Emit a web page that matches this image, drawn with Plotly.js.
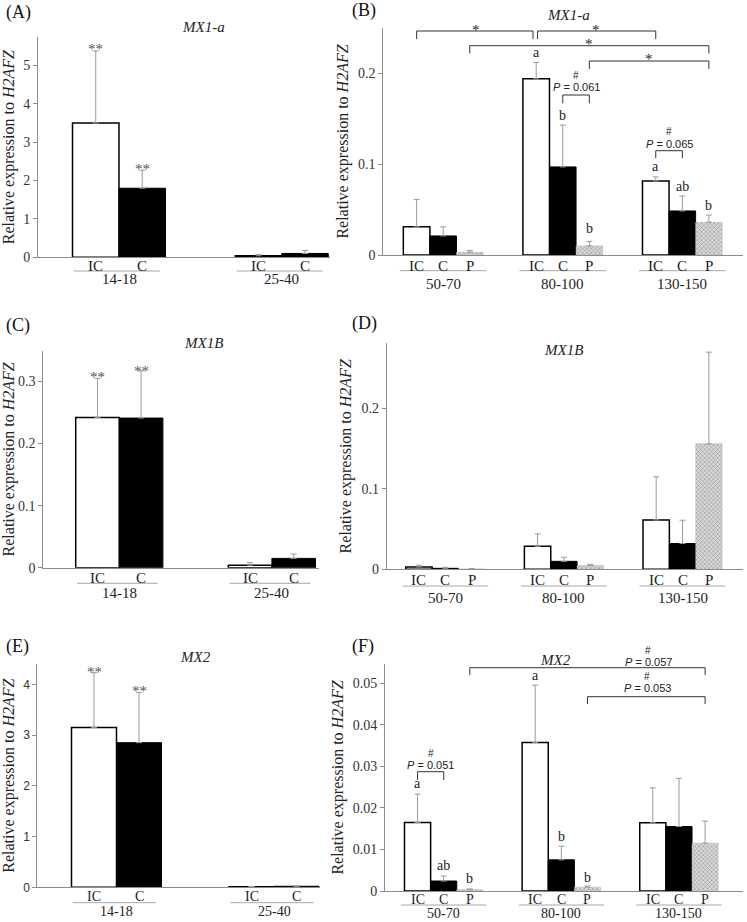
<!DOCTYPE html>
<html><head><meta charset="utf-8">
<script src="https://cdn.plot.ly/plotly-3.0.1.min.js"></script>
<style>html,body{margin:0;padding:0;background:#fff}#chart{width:747px;height:922px}</style>
</head><body><div id="chart"></div>
<script>
// ---------------- DATA ----------------
const groupsEarly = ['14-18', '25-40'];
const groupsLate = ['50-70', '80-100', '130-150'];
const seriesEarly = ['IC', 'C'];
const seriesLate = ['IC', 'C', 'P'];
const yTitle = 'Relative expression to <i>H2AFZ</i>';

// (A) MX1-a, early
const mx1aEarlyIC = [3.50, 0.04];
const mx1aEarlyIC_sd = [1.88, 0.03];
const mx1aEarlyC = [1.80, 0.10];
const mx1aEarlyC_sd = [0.47, 0.08];
// (B) MX1-a, late
const mx1aLateIC = [0.031, 0.194, 0.0815];
const mx1aLateIC_sd = [0.030, 0.018, 0.0045];
const mx1aLateC = [0.021, 0.097, 0.0485];
const mx1aLateC_sd = [0.010, 0.046, 0.0165];
const mx1aLateP = [0.003, 0.010, 0.036];
const mx1aLateP_sd = [0.002, 0.005, 0.008];
// (C) MX1B, early
const mx1bEarlyIC = [0.242, 0.004];
const mx1bEarlyIC_sd = [0.063, 0.004];
const mx1bEarlyC = [0.241, 0.015];
const mx1bEarlyC_sd = [0.076, 0.007];
// (D) MX1B, late
const mx1bLateIC = [0.003, 0.0286, 0.0613];
const mx1bLateIC_sd = [0.002, 0.0154, 0.0537];
const mx1bLateC = [0.0012, 0.0099, 0.032];
const mx1bLateC_sd = [0.0013, 0.0051, 0.029];
const mx1bLateP = [0.0004, 0.0046, 0.156];
const mx1bLateP_sd = [0.0002, 0.0016, 0.114];
// (E) MX2, early
const mx2EarlyIC = [3.15, 0.01];
const mx2EarlyIC_sd = [1.08, 0.005];
const mx2EarlyC = [2.85, 0.02];
const mx2EarlyC_sd = [0.99, 0.01];
// (F) MX2, late
const mx2LateIC = [0.0165, 0.0357, 0.0164];
const mx2LateIC_sd = [0.0068, 0.0138, 0.0084];
const mx2LateC = [0.0024, 0.0075, 0.0155];
const mx2LateC_sd = [0.0012, 0.0033, 0.0116];
const mx2LateP = [0.0003, 0.0009, 0.0115];
const mx2LateP_sd = [0.0002, 0.0003, 0.0053];

const yTicksA = [0, 1, 2, 3, 4, 5];
const yTicksB = [0, 0.1, 0.2];
const yTicksC = [0, 0.1, 0.2, 0.3];
const yTicksD = [0, 0.1, 0.2];
const yTicksE = [0, 1, 2, 3, 4];
const yTicksF = [0, 0.01, 0.02, 0.03, 0.04, 0.05];

// ---------------- LAYOUT / STYLE ----------------
const W = 747, H = 922;
const SERIF = 'Liberation Serif';
const SANS = 'Liberation Sans';
const py = p => 1 - p / H;
const pxX = p => p / W;

const panels = [
  {key:'', label:'(A)', lab:[18.5,12.7], gene:'MX1-a', genePos:[203,27], groups:groupsEarly, series:seriesEarly,
   vals:[mx1aEarlyIC, mx1aEarlyC], sds:[mx1aEarlyIC_sd, mx1aEarlyC_sd], yt:yTicksA, ysans:false,
   g:{left:38, right:330, top:37, bottom:257.3, unit:46.5, origin:119, ymax:5.74, sp:3.5}, off:{tick:7.7, line:13.7, grp:21, fs:15}},
  {key:'2', label:'(B)', lab:[364,10], gene:'MX1-a', genePos:[568,15], groups:groupsLate, series:seriesLate,
   vals:[mx1aLateIC, mx1aLateC, mx1aLateP], sds:[mx1aLateIC_sd, mx1aLateC_sd, mx1aLateP_sd], yt:yTicksB, ysans:false,
   g:{left:383.3, right:743, top:28, bottom:255, unit:26.57, origin:443.2, ymax:0.25, sp:4.5}, off:{tick:10, line:15.7, grp:27.7, fs:15}},
  {key:'3', label:'(C)', lab:[18,326], gene:'MX1B', genePos:[203,343], groups:groupsEarly, series:seriesEarly,
   vals:[mx1bEarlyIC, mx1bEarlyC], sds:[mx1bEarlyIC_sd, mx1bEarlyC_sd], yt:yTicksC, ysans:false,
   g:{left:43.3, right:319, top:351, bottom:567.7, unit:43.6, origin:119.3, ymax:0.349, sp:3.5}, off:{tick:9, line:15.6, grp:24.5, fs:15}},
  {key:'4', label:'(D)', lab:[364,323], gene:'MX1B', genePos:[563,350], groups:groupsLate, series:seriesLate,
   vals:[mx1bLateIC, mx1bLateC, mx1bLateP], sds:[mx1bLateIC_sd, mx1bLateC_sd, mx1bLateP_sd], yt:yTicksD, ysans:false,
   g:{left:386.7, right:743, top:343.3, bottom:569.3, unit:26.36, origin:445.3, ymax:0.281, sp:4.5}, off:{tick:10, line:16.7, grp:27.5, fs:15}},
  {key:'5', label:'(E)', lab:[17.7,646.7], gene:'MX2', genePos:[195,657], groups:groupsEarly, series:seriesEarly,
   vals:[mx2EarlyIC, mx2EarlyC], sds:[mx2EarlyIC_sd, mx2EarlyC_sd], yt:yTicksE, ysans:true,
   g:{left:37.3, right:320, top:664, bottom:887.3, unit:45, origin:116.5, ymax:4.4, sp:3.5}, off:{tick:8.2, line:15.4, grp:23.4, fs:14}},
  {key:'6', label:'(F)', lab:[363.3,646.7], gene:'MX2', genePos:[555,660], groups:groupsLate, series:seriesLate,
   vals:[mx2LateIC, mx2LateC, mx2LateP], sds:[mx2LateIC_sd, mx2LateC_sd, mx2LateP_sd], yt:yTicksF, ysans:false,
   g:{left:385, right:743, top:664, bottom:891, unit:26.14, origin:443.7, ymax:0.0546, sp:4.5}, off:{tick:7.3, line:14, grp:21.5, fs:14}}
];

const seriesStyle = {
  IC: {color:'#ffffff', line:{color:'#000000', width:1.5}},
  C:  {color:'#000000', line:{color:'#000000', width:1}},
  P:  {color:'#d4d4d4', pattern:{shape:'x', fgcolor:'#8a8a8a', bgcolor:'#dadada', size:3, solidity:0.3}, line:{color:'#b0b0b0', width:0.5}}
};

function xpos(p, gi, si) { return gi * p.g.sp + (si - (p.series.length - 1) / 2); }

const traces = [];
const layout = {
  width: W, height: H, margin:{l:0, r:0, t:0, b:0}, showlegend:false,
  paper_bgcolor:'#ffffff', plot_bgcolor:'rgba(0,0,0,0)', barmode:'overlay',
  font:{family:SERIF, color:'#222'}, annotations:[], shapes:[]
};

panels.forEach(p => {
  const xa = 'x' + p.key, ya = 'y' + p.key;
  const tickvals = [], ticktext = [];
  p.groups.forEach((gname, gi) => p.series.forEach((s, si) => { tickvals.push(xpos(p, gi, si)); ticktext.push(s); }));
  p.series.forEach((s, si) => {
    traces.push({
      type:'bar', xaxis:xa, yaxis:ya, name:s,
      x: p.groups.map((gname, gi) => xpos(p, gi, si)),
      y: p.vals[si], width: 1,
      marker: seriesStyle[s],
      error_y: {type:'data', array:p.sds[si], arrayminus:p.sds[si].map(() => 0), symmetric:false,
                color:'#9a9a9a', thickness:1, width:3},
      customdata: p.groups, hovertemplate: '%{customdata} ' + s + ': %{y}<extra></extra>'
    });
  });
  const g = p.g;
  layout['xaxis' + p.key] = {
    domain:[pxX(g.left), pxX(g.right)], anchor:ya,
    range:[(g.left - g.origin) / g.unit, (g.right - g.origin) / g.unit],
    showline:true, linecolor:'#8c8c8c', linewidth:1, showgrid:false, zeroline:false,
    tickmode:'array', tickvals:tickvals, ticktext:ticktext, ticks:'', showticklabels:false, fixedrange:true
  };
  layout['yaxis' + p.key] = {
    domain:[py(g.bottom), py(g.top)], anchor:xa, range:[0, g.ymax],
    showline:true, linecolor:'#8c8c8c', linewidth:1, showgrid:false, zeroline:false,
    ticks:'outside', ticklen:4, tickcolor:'#8c8c8c', tickmode:'array', tickvals:p.yt,
    tickfont:{family: p.ysans ? SANS : SERIF, size: p.ysans ? 12 : 14, color:'#333'},
    title:{text:yTitle, font:{family:SERIF, size:16, color:'#222'}, standoff:5}, fixedrange:true
  };
  // panel label and gene title
  layout.annotations.push({xref:'paper', yref:'paper', x:pxX(p.lab[0]), y:py(p.lab[1]), text:p.label,
    showarrow:false, xanchor:'center', yanchor:'middle', font:{family:SERIF, size:18, color:'#111'}});
  layout.annotations.push({xref:'paper', yref:'paper', x:pxX(p.genePos[0]), y:py(p.genePos[1]), text:'<i>' + p.gene + '</i>',
    showarrow:false, xanchor:'center', yanchor:'middle', font:{family:SERIF, size:15, color:'#222'}});
  // series labels, group underline + group label
  const n = p.series.length;
  const a = n === 3 ? -0.13 : 0.03, b = n === 3 ? 0.13 : -0.12;
  p.groups.forEach((gname, gi) => {
    p.series.forEach((s, si) => {
      layout.annotations.push({xref:xa, yref:'paper', x:xpos(p, gi, si), y:py(g.bottom + p.off.tick + 1),
        text:s, showarrow:false, xanchor:'center', yanchor:'middle', font:{family:SERIF, size:p.off.fs, color:'#222'}});
    });
    const x0 = xpos(p, gi, 0) - 0.5 + a, x1 = xpos(p, gi, n - 1) + 0.5 + b;
    layout.shapes.push({type:'line', xref:xa, yref:'paper', x0:x0, x1:x1,
      y0:py(g.bottom + p.off.line), y1:py(g.bottom + p.off.line), line:{color:'#a8a8a8', width:1}});
    layout.annotations.push({xref:xa, yref:'paper', x:(xpos(p, gi, 0) + xpos(p, gi, n - 1)) / 2,
      y:py(g.bottom + p.off.grp + 1), text:gname, showarrow:false, xanchor:'center', yanchor:'middle',
      font:{family:SERIF, size:p.off.fs, color:'#222'}});
  });
});

// ---------------- SIGNIFICANCE MARKS ----------------
function txt(xa, x, ypx, text, size, fam, color) {
  layout.annotations.push({xref:xa, yref:'paper', x:x, y:py(ypx), text:text, showarrow:false,
    xanchor:'center', yanchor:'middle', font:{family:fam || SERIF, size:size || 14, color:color || '#222'}});
}
function bracket(xa, x1, x2, yh, yl) {
  layout.shapes.push({type:'path', xref:xa, yref:'paper',
    path:'M' + x1 + ',' + py(yl) + ' L' + x1 + ',' + py(yh) + ' L' + x2 + ',' + py(yh) + ' L' + x2 + ',' + py(yl),
    line:{color:'#333', width:1}});
}
const pA = panels[0], pB = panels[1], pC = panels[2], pE = panels[4], pF = panels[5];
// ** marks
txt('x', xpos(pA,0,0), 49, '**', 15, SERIF, '#555'); txt('x', xpos(pA,0,1), 169, '**', 15, SERIF, '#555');
txt('x3', xpos(pC,0,0), 377, '**', 15, SERIF, '#555'); txt('x3', xpos(pC,0,1), 371, '**', 15, SERIF, '#555');
txt('x5', xpos(pE,0,0), 672, '**', 15, SERIF, '#555'); txt('x5', xpos(pE,0,1), 691, '**', 15, SERIF, '#555');

// Panel B brackets
bracket('x2', xpos(pB,0,0), xpos(pB,1,0) - 0.12, 31, 39); txt('x2', (xpos(pB,0,0) + xpos(pB,1,0)) / 2, 30, '*', 15);
bracket('x2', xpos(pB,1,0) + 0.05, xpos(pB,2,0), 31, 39); txt('x2', (xpos(pB,1,0) + xpos(pB,2,0)) / 2, 30, '*', 15);
bracket('x2', xpos(pB,0,2), xpos(pB,2,2), 45.7, 53.3); txt('x2', (xpos(pB,0,2) + xpos(pB,2,2)) / 2, 43.5, '*', 15);
bracket('x2', xpos(pB,1,2), xpos(pB,2,2), 61, 69); txt('x2', (xpos(pB,1,2) + xpos(pB,2,2)) / 2, 59, '*', 15);
bracket('x2', xpos(pB,1,1), xpos(pB,1,2), 95, 103.3);
txt('x2', (xpos(pB,1,1) + xpos(pB,1,2)) / 2, 76, '#', 10, SANS);
txt('x2', (xpos(pB,1,1) + xpos(pB,1,2)) / 2, 87.3, '<i>P</i> = 0.061', 11, SANS);
bracket('x2', xpos(pB,2,0), xpos(pB,2,1), 150.7, 158.3);
txt('x2', (xpos(pB,2,0) + xpos(pB,2,1)) / 2, 131.7, '#', 10, SANS);
txt('x2', (xpos(pB,2,0) + xpos(pB,2,1)) / 2, 144, '<i>P</i> = 0.065', 11, SANS);
[['a',1,0,52],['b',1,1,115.5],['b',1,2,228],['a',2,0,166.5],['ab',2,1,186.5],['b',2,2,205]].forEach(l =>
  txt('x2', xpos(pB, l[1], l[2]), l[3], l[0], 14));

// Panel F brackets
bracket('x6', xpos(pF,0,2), xpos(pF,2,2), 667.7, 675);
txt('paper', pxX(648), 650, '#', 10, SANS); txt('paper', pxX(648), 661.7, '<i>P</i> = 0.057', 11, SANS);
bracket('x6', xpos(pF,1,2), xpos(pF,2,2), 696.7, 704);
txt('paper', pxX(647), 676.7, '#', 10, SANS); txt('paper', pxX(647), 688.3, '<i>P</i> = 0.053', 11, SANS);
bracket('x6', xpos(pF,0,0), xpos(pF,0,1), 771.7, 780);
txt('x6', (xpos(pF,0,0) + xpos(pF,0,1)) / 2, 753.3, '#', 10, SANS);
txt('x6', (xpos(pF,0,0) + xpos(pF,0,1)) / 2, 765, '<i>P</i> = 0.051', 11, SANS);
[['a',0,0,783],['ab',0,1,865],['b',0,2,878],['a',1,0,675.5],['b',1,1,836.5],['b',1,2,877.5]].forEach(l =>
  txt('x6', xpos(pF, l[1], l[2]), l[3], l[0], 14));

Plotly.newPlot('chart', traces, layout, {displayModeBar:false, staticPlot:true});
</script>
</body></html>
